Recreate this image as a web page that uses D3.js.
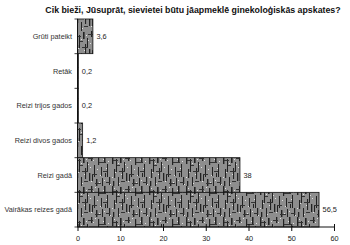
<!DOCTYPE html>
<html><head><meta charset="utf-8">
<script src="https://cdn.jsdelivr.net/npm/d3@7"></script>
<style>body{margin:0;background:#fff}svg{display:block}</style>
</head><body>
<script>
const categories = ["Grūti pateikt","Retāk","Reizi trijos gados","Reizi divos gados","Reizi gadā","Vairākas reizes gadā"];
const values = [3.6, 0.2, 0.2, 1.2, 38, 56.5];
const valueLabels = ["3,6","0,2","0,2","1,2","38","56,5"];
const xTicks = [0,10,20,30,40,50,60];
const title = "Cik bieži, Jūsuprāt, sievietei būtu jāapmeklē ginekoloģiskās apskates?";

const W=350,H=245;
const svg=d3.select("body").append("svg").attr("width",W).attr("height",H);
const font="Liberation Sans, Arial, sans-serif";

// texture pattern (scanned look)
const defs=svg.append("defs");
const pat=defs.append("pattern").attr("id","tex").attr("patternUnits","userSpaceOnUse").attr("width",37).attr("height",31);
pat.append("rect").attr("width",37).attr("height",31).attr("fill","#8e8e8e");
const streaks=[[1,0,1.4,9],[5,4,1,13],[9,1,1.6,7],[13,7,1,10],[17,0,1.3,6],[20,10,1,12],[3,14,1.2,9],[11,13,1.1,11],[24,2,1.2,8],[15,18,1.3,8],
  [27,12,1,9],[30,0,1.5,7],[33,9,1,13],[35,22,1.2,8],[7,22,1,9],[22,24,1.4,7],[28,23,1,8],[18,20,1,6],[2,26,1.3,5],[31,18,1,4]];
streaks.forEach(s=>pat.append("rect").attr("x",s[0]).attr("y",s[1]).attr("width",s[2]).attr("height",s[3]).attr("fill","#222"));
const hs=[[2,5,5,1],[8,16,6,1],[14,3,5,1],[18,19,5,1],[6,10,3,1],[25,7,7,1],[29,16,4,1],[21,28,6,1],[10,26,4,1],[32,27,4,1]];
hs.forEach(s=>pat.append("rect").attr("x",s[0]).attr("y",s[1]).attr("width",s[2]).attr("height",s[3]).attr("fill","#333"));
const lt=[[3,2],[7,8],[12,4],[16,12],[19,5],[23,14],[10,19],[4,17],[21,1],[14,9],[26,20],[29,4],[34,6],[32,13],[25,27],[8,28],[17,26],[36,29],[1,22],[30,25]];
lt.forEach(s=>pat.append("rect").attr("x",s[0]).attr("y",s[1]).attr("width",1).attr("height",1).attr("fill","#e0e0e0"));

const x=d3.scaleLinear().domain([0,60]).range([77.5,334]);
const y=d3.scaleBand().domain(categories).range([19,227]).padding(0);

// title
svg.append("text").attr("x",193).attr("y",13).attr("text-anchor","middle")
  .attr("font-family",font).attr("font-weight","bold").attr("font-size",8.8).attr("fill","#111").text(title);

// bars
svg.append("g").selectAll("rect").data(categories).join("rect")
  .attr("x",x(0)).attr("y",d=>y(d)).attr("width",(d,i)=>x(values[i])-x(0)).attr("height",y.bandwidth())
  .attr("fill","url(#tex)").attr("stroke","#111").attr("stroke-width",0.8);

// value labels
svg.append("g").selectAll("text").data(categories).join("text")
  .attr("x",(d,i)=>x(values[i])+3.5).attr("y",d=>y(d)+y.bandwidth()/2+2.6)
  .attr("font-family",font).attr("font-size",7.4).attr("fill","#222").text((d,i)=>valueLabels[i]);

// category labels
svg.append("g").selectAll("text").data(categories).join("text")
  .attr("x",72).attr("y",d=>y(d)+y.bandwidth()/2+2.6).attr("text-anchor","end")
  .attr("font-family",font).attr("font-size",7.3).attr("fill","#333").text(d=>d);

// y axis line with ticks at band boundaries
const yAx=svg.append("g");
yAx.append("line").attr("x1",x(0)).attr("x2",x(0)).attr("y1",19).attr("y2",227).attr("stroke","#111").attr("stroke-width",1);
const bounds=categories.map(c=>y(c)).concat([227]);
yAx.selectAll("line.t").data(bounds).join("line").attr("class","t")
  .attr("x1",x(0)-3).attr("x2",x(0)).attr("y1",d=>d).attr("y2",d=>d).attr("stroke","#111").attr("stroke-width",0.8);

// x axis
const xAx=svg.append("g").attr("transform","translate(0,227)")
  .call(d3.axisBottom(x).tickValues(xTicks).tickSize(4).tickFormat(d3.format("d")));
xAx.select(".domain").attr("stroke","#111").attr("d",`M${x(0)},0H${x(60)}`);
xAx.selectAll(".tick line").attr("stroke","#111").attr("y1",-3).attr("y2",4);
xAx.selectAll("text").attr("font-family",font).attr("font-size",7.3).attr("fill","#222").attr("dy","0.9em");
</script>
</body></html>
